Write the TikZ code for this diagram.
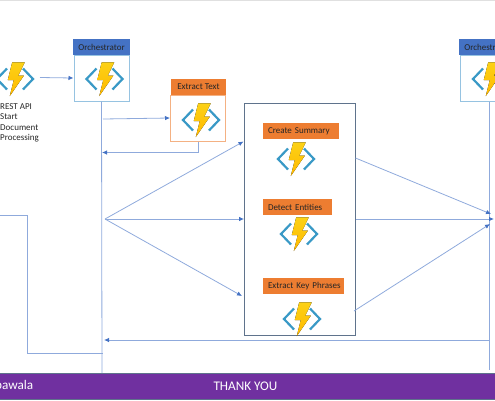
\documentclass[tikz,border=0pt]{standalone}
\usepackage{fontspec}
\setmainfont{Carlito}
\usetikzlibrary{positioning,arrows.meta,calc}
\definecolor{headblue}{RGB}{68,114,196}
\definecolor{headorange}{RGB}{237,125,49}
\definecolor{edgeblue}{RGB}{150,195,225}
\definecolor{edgeorange}{RGB}{244,177,131}
\definecolor{flowline}{RGB}{143,170,220}
\definecolor{tipblue}{RGB}{68,114,196}
\definecolor{barpurple}{RGB}{112,48,160}
\definecolor{slate}{RGB}{95,115,140}
\definecolor{iconblue}{RGB}{57,153,198}
\definecolor{boltyellow}{RGB}{252,209,22}
\definecolor{boltorange}{RGB}{255,185,0}
\tikzset{
  headbox/.style={draw=none,inner sep=0pt,font=\fontsize{9}{9}\selectfont,text=black!85},
  stepbox/.style={headbox,fill=headorange,align=left,minimum height=16pt,text width=#1,execute at begin node={\hspace*{5pt}}},
  bodybox/.style={draw,line width=1pt,fill=white,inner sep=0pt,minimum width=55pt,minimum height=46pt},
  flow/.style={draw=flowline,line width=0.8pt},
  flowtip/.style={flow,-{Latex[length=5pt,width=4.5pt,color=tipblue]}},
  plain/.style={inner sep=0pt,font=\fontsize{9}{10.4}\selectfont,text=black!85},
  barlabel/.style={inner sep=0pt,text=white,font=\fontsize{13.2}{14}\selectfont}
}
% function icon, centred on (#1,#2)
\newcommand{\funcicon}[2]{
  \begin{scope}[shift={(#1,#2)}]
    \draw[iconblue,line width=2.2pt] (-8,-10.5) -- (-18,0) -- (-8,10.5);
    \draw[iconblue,line width=2.2pt] (8,-10.5) -- (18,0) -- (8,10.5);
    \fill[top color=boltyellow,bottom color=boltorange] (-2.8,-16.7) -- (9.8,-16.7) -- (3.2,-3.3) -- (8.8,-3.3) -- (-5.2,17) -- (-1.2,1) -- (-7.2,1) -- cycle;
  \end{scope}
}
\begin{document}
\begin{tikzpicture}[x=1pt,y=-1pt]
\useasboundingbox (0,0) rectangle (495,400);
\clip (0,0) rectangle (495,400);
\fill[black!12] (0,0) rectangle (495,1);
% footer bar
\node[draw=slate,fill=barpurple,line width=0.6pt,inner sep=0pt,minimum width=500pt,minimum height=26pt] (footer) at (247.5,386) {};
\node[barlabel,anchor=east] (speaker) at (33.5,386) {pawala};
\node[barlabel] (thanks) at (245.5,386) {THANK YOU};
% orchestrators and text step
\node[bodybox,draw=edgeblue] (orchA) at (101.5,78) {};
\node[headbox,fill=headblue,minimum width=57pt,minimum height=16pt] (orchAhead) at (101.5,47) {Orchestrator};
\node[bodybox,draw=edgeblue] (orchB) at (487.5,78) {};
\node[headbox,fill=headblue,minimum width=57pt,minimum height=16pt] (orchBhead) at (487.5,47) {Orchestrator};
\node[bodybox,draw=edgeorange] (textbox) at (198,118) {};
\node[headbox,fill=headorange,minimum width=55pt,minimum height=16pt] (texthead) at (198.5,86.5) {Extract Text};
% parallel group
\node[stepbox=76pt] (summary) at (301,131) {Create Summary};
\node[stepbox=69pt] (entities) at (297.5,207) {Detect Entities};
\node[stepbox=81pt] (phrases) at (303.5,286) {Extract Key Phrases};
\node[draw=slate,line width=0.9pt,inner sep=0pt,minimum width=111pt,minimum height=232pt] (group) at (300,219) {};
\node[plain,anchor=north west,align=left] (trigger) at (0,103.5) {REST API\\Start\\Document\\Processing};
\funcicon{15}{79}
\funcicon{104.5}{79}
\funcicon{491}{79}
\funcicon{201}{120}
\funcicon{296}{159}
\funcicon{299}{234}
\funcicon{302}{319}
% free ends of the connectors
\coordinate (restout) at (40,77.5);
\coordinate (fork) at (105,219);
\coordinate (joinTop) at (491,214);
\coordinate (joinMid) at (494,219);
\coordinate (joinLow) at (490,224);
\coordinate (sumout) at (355.5,158);
\coordinate (keyout) at (354,311);
\coordinate (sumin) at (243.5,141.5);
\coordinate (keyin) at (242,296);
\coordinate (spineA) at (102,373);
\coordinate (spineB) at (489,370);
\coordinate (loopstart) at (0,215.5);
\coordinate (loopA) at (27,215.5);
\coordinate (loopB) at (27,353.5);
\coordinate (loopC) at (103,353.5);
\coordinate (backA) at (489,340);
\coordinate (backB) at (104,340);
\coordinate (textin) at (103,119);
\coordinate (textback) at (102,152.5);
\draw[flow] (orchA.south) -- (spineA);
\draw[flow] (orchB.south -| spineB) -- (spineB);
\draw[flowtip] (restout) -- (orchA.west);
\draw[flowtip] (textin) -- (textbox.west);
\draw[flowtip] (textbox.south) |- (textback);
\draw[flowtip] (fork) -- (sumin);
\draw[flowtip] (fork) -- (group.west);
\draw[flowtip] (fork) -- (keyin);
\draw[flowtip] (sumout) -- (joinTop);
\draw[flowtip] (group.east) -- (joinMid);
\draw[flowtip] (keyout) -- (joinLow);
\draw[flowtip] (backA) -- (backB);
\draw[flow] (loopstart) -- (loopA) -- (loopB) -- (loopC);
\end{tikzpicture}
\end{document}
